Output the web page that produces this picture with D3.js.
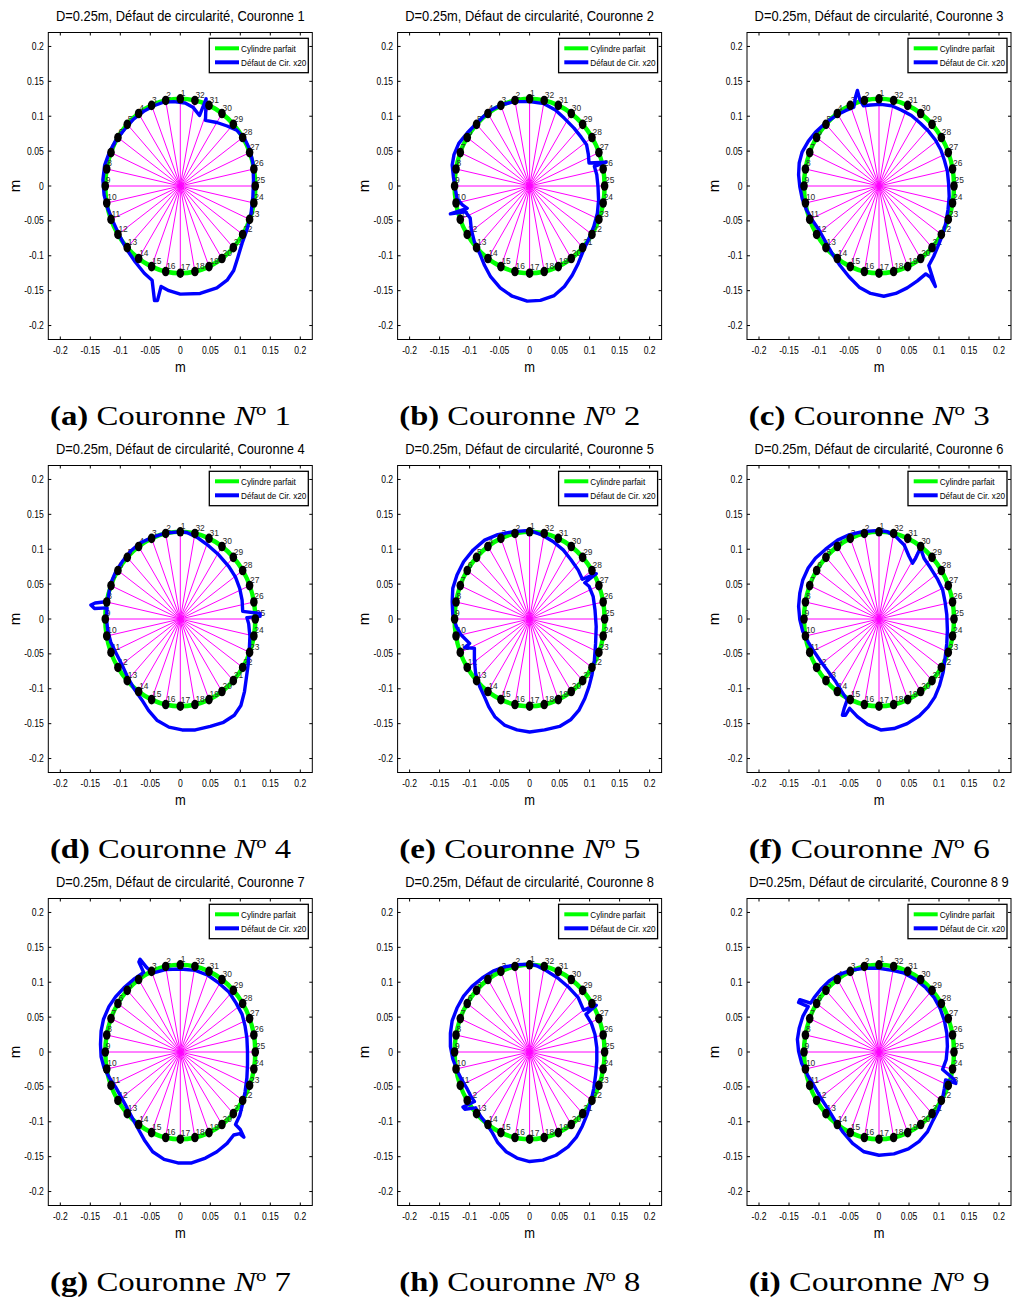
<!DOCTYPE html>
<html><head><meta charset="utf-8">
<script src="https://cdn.jsdelivr.net/npm/d3@7"></script>
<style>body{margin:0;background:#fff}</style>
</head><body>
<script>
// ---------- data ----------
const panelTitles = [
  "D=0.25m, Défaut de circularité, Couronne 1",
  "D=0.25m, Défaut de circularité, Couronne 2",
  "D=0.25m, Défaut de circularité, Couronne 3",
  "D=0.25m, Défaut de circularité, Couronne 4",
  "D=0.25m, Défaut de circularité, Couronne 5",
  "D=0.25m, Défaut de circularité, Couronne 6",
  "D=0.25m, Défaut de circularité, Couronne 7",
  "D=0.25m, Défaut de circularité, Couronne 8",
  "D=0.25m, Défaut de circularité, Couronne 8 9"
];
const captionLetters = ["a","b","c","d","e","f","g","h","i"];
const captionNumbers = ["1","2","3","4","5","6","7","8","9"];
const legendLabels = ["Cylindre parfait", "Défaut de Cir. x20"];
const xTicks = [-0.2,-0.15,-0.1,-0.05,0,0.05,0.1,0.15,0.2];
const yTicks = [-0.2,-0.15,-0.1,-0.05,0,0.05,0.1,0.15,0.2];
const cylinderRadius = 0.125;
const pointLabels = [1,2,3,4,5,6,7,8,9,10,11,12,13,14,15,16,17,18,19,20,21,22,23,24,25,26,27,28,29,30,31,32];
const pointAngles = [90,101.25,112.5,123.75,135,146.25,157.5,168.75,180,191.25,202.5,213.75,225,236.25,247.5,258.75,
  270,281.25,292.5,303.75,315,326.25,337.5,348.75,0,11.25,22.5,33.75,45,56.25,67.5,78.75];

// defect profiles (x20), [x, y] in metres
const defect1 = [[0,-0.155],[0.033,-0.154],[0.061,-0.146],[0.078,-0.135],[0.089,-0.121],[0.096,-0.102],[0.103,-0.082],[0.111,-0.063],[0.118,-0.039],[0.121,-0.015],[0.122,0.009],[0.121,0.033],[0.116,0.052],[0.107,0.068],[0.094,0.080],[0.078,0.086],[0.061,0.091],[0.042,0.094],[0.043,0.125],[0.032,0.101],[0.021,0.113],[0.008,0.119],[-0.011,0.121],[-0.028,0.120],[-0.044,0.115],[-0.061,0.107],[-0.078,0.096],[-0.093,0.081],[-0.107,0.066],[-0.118,0.049],[-0.126,0.030],[-0.129,0.009],[-0.127,-0.013],[-0.121,-0.032],[-0.112,-0.051],[-0.103,-0.068],[-0.090,-0.090],[-0.075,-0.109],[-0.060,-0.125],[-0.047,-0.135],[-0.043,-0.164],[-0.038,-0.164],[-0.032,-0.144],[-0.019,-0.150]];
const defect2 = [[0,0.121],[-0.026,0.121],[-0.048,0.116],[-0.068,0.107],[-0.087,0.091],[-0.104,0.076],[-0.118,0.061],[-0.126,0.045],[-0.129,0.030],[-0.127,0.013],[-0.124,-0.003],[-0.121,-0.018],[-0.112,-0.027],[-0.104,-0.032],[-0.132,-0.040],[-0.107,-0.037],[-0.099,-0.046],[-0.097,-0.063],[-0.092,-0.080],[-0.083,-0.097],[-0.075,-0.114],[-0.065,-0.130],[-0.049,-0.146],[-0.029,-0.158],[-0.004,-0.165],[0.018,-0.164],[0.041,-0.157],[0.058,-0.144],[0.071,-0.128],[0.081,-0.111],[0.089,-0.094],[0.099,-0.075],[0.107,-0.058],[0.113,-0.039],[0.115,-0.020],[0.114,-0.001],[0.112,0.016],[0.108,0.028],[0.127,0.034],[0.099,0.033],[0.098,0.045],[0.095,0.059],[0.086,0.070],[0.074,0.083],[0.058,0.097],[0.043,0.109],[0.024,0.118]];
const defect3 = [[0.003,0.117],[-0.014,0.116],[-0.026,0.115],[-0.032,0.124],[-0.036,0.137],[-0.039,0.128],[-0.042,0.113],[-0.056,0.108],[-0.072,0.101],[-0.091,0.089],[-0.106,0.077],[-0.118,0.064],[-0.128,0.049],[-0.133,0.033],[-0.134,0.016],[-0.132,-0.001],[-0.128,-0.018],[-0.121,-0.034],[-0.111,-0.049],[-0.100,-0.063],[-0.089,-0.080],[-0.078,-0.097],[-0.065,-0.114],[-0.050,-0.130],[-0.033,-0.145],[-0.014,-0.154],[0.008,-0.158],[0.028,-0.154],[0.047,-0.146],[0.064,-0.136],[0.078,-0.126],[0.086,-0.131],[0.094,-0.144],[0.083,-0.114],[0.091,-0.101],[0.098,-0.087],[0.106,-0.070],[0.111,-0.054],[0.115,-0.034],[0.117,-0.015],[0.116,0.004],[0.114,0.021],[0.109,0.037],[0.103,0.052],[0.094,0.066],[0.083,0.078],[0.069,0.090],[0.054,0.101],[0.037,0.109],[0.021,0.115]];
const defect4 = [[0,0.125],[-0.025,0.123],[-0.047,0.117],[-0.067,0.109],[-0.083,0.097],[-0.097,0.082],[-0.108,0.067],[-0.116,0.051],[-0.119,0.037],[-0.121,0.025],[-0.142,0.023],[-0.149,0.020],[-0.143,0.015],[-0.122,0.016],[-0.123,0.001],[-0.121,-0.016],[-0.116,-0.033],[-0.107,-0.049],[-0.097,-0.066],[-0.088,-0.083],[-0.077,-0.100],[-0.064,-0.116],[-0.053,-0.131],[-0.039,-0.145],[-0.019,-0.155],[0.003,-0.159],[0.025,-0.159],[0.050,-0.154],[0.072,-0.148],[0.090,-0.138],[0.101,-0.124],[0.107,-0.104],[0.110,-0.085],[0.113,-0.066],[0.115,-0.045],[0.116,-0.025],[0.114,-0.007],[0.111,0.002],[0.133,0.004],[0.133,0.008],[0.104,0.011],[0.103,0.027],[0.099,0.044],[0.092,0.060],[0.081,0.075],[0.064,0.092],[0.047,0.105],[0.028,0.117],[0.011,0.124]];
const defect5 = [[0,0.127],[-0.028,0.125],[-0.053,0.121],[-0.075,0.113],[-0.094,0.099],[-0.110,0.082],[-0.121,0.063],[-0.128,0.044],[-0.129,0.025],[-0.128,0.006],[-0.122,-0.011],[-0.114,-0.023],[-0.100,-0.035],[-0.108,-0.041],[-0.092,-0.042],[-0.092,-0.059],[-0.090,-0.078],[-0.083,-0.097],[-0.075,-0.112],[-0.068,-0.126],[-0.058,-0.140],[-0.042,-0.152],[-0.021,-0.159],[0,-0.162],[0.025,-0.159],[0.050,-0.154],[0.069,-0.144],[0.082,-0.131],[0.092,-0.114],[0.099,-0.097],[0.104,-0.080],[0.108,-0.059],[0.110,-0.035],[0.111,-0.011],[0.109,0.013],[0.106,0.032],[0.099,0.047],[0.092,0.052],[0.111,0.065],[0.088,0.057],[0.081,0.070],[0.069,0.085],[0.056,0.099],[0.039,0.111],[0.019,0.121]];
const defect6 = [[0,0.127],[-0.028,0.125],[-0.049,0.121],[-0.069,0.113],[-0.089,0.100],[-0.106,0.087],[-0.118,0.073],[-0.127,0.056],[-0.132,0.037],[-0.134,0.018],[-0.132,-0.001],[-0.127,-0.018],[-0.118,-0.033],[-0.108,-0.047],[-0.097,-0.061],[-0.084,-0.076],[-0.072,-0.090],[-0.062,-0.104],[-0.053,-0.116],[-0.058,-0.128],[-0.061,-0.138],[-0.056,-0.138],[-0.049,-0.128],[-0.036,-0.140],[-0.019,-0.151],[0.003,-0.159],[0.025,-0.157],[0.047,-0.150],[0.067,-0.139],[0.082,-0.126],[0.093,-0.112],[0.101,-0.095],[0.107,-0.076],[0.110,-0.057],[0.113,-0.035],[0.114,-0.016],[0.113,0.006],[0.110,0.025],[0.106,0.042],[0.097,0.058],[0.086,0.073],[0.075,0.087],[0.069,0.102],[0.061,0.087],[0.056,0.080],[0.050,0.090],[0.042,0.106],[0.028,0.118],[0.014,0.125]];
const defect7 = [[0,0.119],[-0.025,0.118],[-0.046,0.113],[-0.056,0.121],[-0.067,0.133],[-0.069,0.129],[-0.061,0.114],[-0.078,0.104],[-0.094,0.092],[-0.108,0.079],[-0.119,0.065],[-0.128,0.047],[-0.132,0.030],[-0.133,0.011],[-0.132,-0.007],[-0.127,-0.023],[-0.118,-0.037],[-0.108,-0.050],[-0.099,-0.064],[-0.090,-0.078],[-0.081,-0.093],[-0.071,-0.109],[-0.060,-0.126],[-0.046,-0.143],[-0.027,-0.154],[-0.004,-0.159],[0.019,-0.159],[0.042,-0.152],[0.061,-0.143],[0.078,-0.131],[0.089,-0.119],[0.099,-0.117],[0.106,-0.122],[0.100,-0.111],[0.092,-0.104],[0.099,-0.091],[0.104,-0.074],[0.108,-0.057],[0.111,-0.037],[0.112,-0.018],[0.112,0.001],[0.111,0.020],[0.108,0.037],[0.103,0.054],[0.093,0.070],[0.081,0.086],[0.064,0.099],[0.046,0.110],[0.025,0.117]];
const defect8 = [[0,0.126],[-0.021,0.125],[-0.042,0.122],[-0.061,0.116],[-0.079,0.106],[-0.096,0.094],[-0.110,0.080],[-0.121,0.063],[-0.129,0.045],[-0.132,0.027],[-0.132,0.008],[-0.128,-0.010],[-0.121,-0.026],[-0.113,-0.040],[-0.104,-0.053],[-0.097,-0.065],[-0.092,-0.071],[-0.111,-0.079],[-0.108,-0.082],[-0.090,-0.080],[-0.081,-0.093],[-0.071,-0.104],[-0.062,-0.116],[-0.053,-0.130],[-0.039,-0.143],[-0.021,-0.152],[0,-0.157],[0.022,-0.155],[0.044,-0.148],[0.064,-0.136],[0.078,-0.122],[0.088,-0.106],[0.096,-0.089],[0.102,-0.071],[0.107,-0.052],[0.110,-0.033],[0.112,-0.013],[0.112,0.006],[0.109,0.025],[0.103,0.041],[0.094,0.054],[0.111,0.067],[0.090,0.060],[0.081,0.078],[0.066,0.092],[0.047,0.106],[0.025,0.118],[0.011,0.124]];
const defect9 = [[0,0.120],[-0.025,0.120],[-0.047,0.117],[-0.067,0.111],[-0.083,0.102],[-0.097,0.090],[-0.108,0.078],[-0.114,0.070],[-0.132,0.075],[-0.134,0.071],[-0.118,0.065],[-0.127,0.051],[-0.133,0.034],[-0.136,0.018],[-0.134,0.001],[-0.129,-0.016],[-0.119,-0.033],[-0.108,-0.049],[-0.097,-0.066],[-0.084,-0.083],[-0.072,-0.100],[-0.060,-0.115],[-0.044,-0.131],[-0.025,-0.143],[0,-0.148],[0.025,-0.146],[0.049,-0.139],[0.067,-0.128],[0.081,-0.114],[0.090,-0.098],[0.099,-0.083],[0.106,-0.066],[0.109,-0.052],[0.111,-0.040],[0.128,-0.045],[0.125,-0.039],[0.106,-0.025],[0.112,-0.011],[0.114,0.008],[0.113,0.027],[0.109,0.045],[0.102,0.062],[0.092,0.078],[0.078,0.092],[0.061,0.104],[0.042,0.113],[0.022,0.117]];
const defects = [defect1, defect2, defect3, defect4, defect5, defect6, defect7, defect8, defect9];

// ---------- drawing ----------
const W = 1013, H = 1298;
const colX = [0, 349.3, 698.7];
const rowY = [0, 433, 866];
const SX = 0.86; // horizontal text compression of the original export

const svg = d3.select("body").append("svg").attr("width", W).attr("height", H)
  .style("font-family", "Liberation Sans, Arial, sans-serif");
svg.append("rect").attr("width", W).attr("height", H).attr("fill", "#fff");

const x = d3.scaleLinear().domain([-0.22, 0.22]).range([48.3, 312.3]);
const y = d3.scaleLinear().domain([-0.22, 0.22]).range([339.5, 32.5]);
const rad = a => a * Math.PI / 180;

function text(g, px, py, s, size, anchor, extra) {
  const t = g.append("text")
    .attr("transform", `translate(${px},${py}) scale(${SX},1)`)
    .attr("font-size", size).attr("text-anchor", anchor || "start")
    .attr("fill", "#000").text(s);
  if (extra) extra(t);
  return t;
}

const line = d3.line().x(d => x(d[0])).y(d => y(d[1])).curve(d3.curveLinearClosed);

defects.forEach((data, i) => {
  const g = svg.append("g").attr("transform", `translate(${colX[i % 3]},${rowY[Math.floor(i / 3)]})`);
  const x0 = x(-0.22), x1 = x(0.22), y0 = y(0.22), y1 = y(-0.22);

  // spokes
  g.append("g").selectAll("line").data(pointAngles).join("line")
    .attr("x1", x(0)).attr("y1", y(0))
    .attr("x2", a => x(cylinderRadius * Math.cos(rad(a))))
    .attr("y2", a => y(cylinderRadius * Math.sin(rad(a))))
    .attr("stroke", "#ff00ff").attr("stroke-width", 1);

  // perfect cylinder
  g.append("ellipse").attr("cx", x(0)).attr("cy", y(0))
    .attr("rx", x(cylinderRadius) - x(0)).attr("ry", y(0) - y(cylinderRadius))
    .attr("fill", "none").attr("stroke", "#00ff00").attr("stroke-width", 4.5);

  // point numbers
  pointAngles.forEach((a, k) => {
    text(g, x(cylinderRadius * Math.cos(rad(a))) + 0.5, y(cylinderRadius * Math.sin(rad(a))) - 2.8,
      String(pointLabels[k]), 9.8, "start", t => t.attr("fill", "#2a2a2a"));
  });

  // defect curve
  g.append("path").attr("d", line(data)).attr("fill", "none")
    .attr("stroke", "#0000ff").attr("stroke-width", 3.4).attr("stroke-linejoin", "round");

  // measurement points
  g.append("g").selectAll("ellipse").data(pointAngles).join("ellipse")
    .attr("cx", a => x(cylinderRadius * Math.cos(rad(a))))
    .attr("cy", a => y(cylinderRadius * Math.sin(rad(a))))
    .attr("rx", 3.8).attr("ry", 4.8).attr("fill", "#000");

  // axes box + ticks
  g.append("rect").attr("x", x0).attr("y", y0).attr("width", x1 - x0).attr("height", y1 - y0)
    .attr("fill", "none").attr("stroke", "#000").attr("stroke-width", 1);
  const tl = 3;
  xTicks.forEach(v => {
    g.append("line").attr("x1", x(v)).attr("x2", x(v)).attr("y1", y1).attr("y2", y1 - tl).attr("stroke", "#000");
    g.append("line").attr("x1", x(v)).attr("x2", x(v)).attr("y1", y0).attr("y2", y0 + tl).attr("stroke", "#000");
    text(g, x(v), y1 + 14, String(v), 10, "middle");
  });
  yTicks.forEach(v => {
    g.append("line").attr("x1", x0).attr("x2", x0 + tl).attr("y1", y(v)).attr("y2", y(v)).attr("stroke", "#000");
    g.append("line").attr("x1", x1).attr("x2", x1 - tl).attr("y1", y(v)).attr("y2", y(v)).attr("stroke", "#000");
    text(g, x0 - 4.5, y(v) + 3.5, String(v), 10, "end");
  });

  // axis labels
  text(g, (x0 + x1) / 2, y1 + 32, "m", 15, "middle");
  g.append("text").attr("transform", `translate(20,${(y0 + y1) / 2}) rotate(-90)`)
    .attr("font-size", 15).attr("text-anchor", "middle").text("m");

  // title
  text(g, (x0 + x1) / 2, 20.5, panelTitles[i], 15, "middle");

  // legend
  const lg = g.append("g");
  lg.append("rect").attr("x", 209.3).attr("y", 38.3).attr("width", 99).attr("height", 34.4)
    .attr("fill", "#fff").attr("stroke", "#000").attr("stroke-width", 1.3);
  const legColors = ["#00ff00", "#0000ff"];
  legendLabels.forEach((lab, k) => {
    const ly = 48.3 + k * 14;
    lg.append("line").attr("x1", 215).attr("x2", 239).attr("y1", ly).attr("y2", ly)
      .attr("stroke", legColors[k]).attr("stroke-width", 4);
    text(lg, 241, ly + 3.2, lab, 9.5, "start");
  });

  // caption
  const cap = g.append("text").attr("x", 170.5).attr("y", 425)
    .attr("text-anchor", "middle").attr("font-family", "Liberation Serif, Times New Roman, serif")
    .attr("font-size", 27).attr("fill", "#000")
    .attr("textLength", 241).attr("lengthAdjust", "spacingAndGlyphs");
  cap.append("tspan").attr("font-weight", "bold").text(`(${captionLetters[i]})`);
  cap.append("tspan").text(" Couronne ");
  cap.append("tspan").attr("font-style", "italic").text("N");
  cap.append("tspan").attr("font-size", 17).attr("dy", -10).text("o");
  cap.append("tspan").attr("dy", 10).text(" " + captionNumbers[i]);
});
</script>
</body></html>
